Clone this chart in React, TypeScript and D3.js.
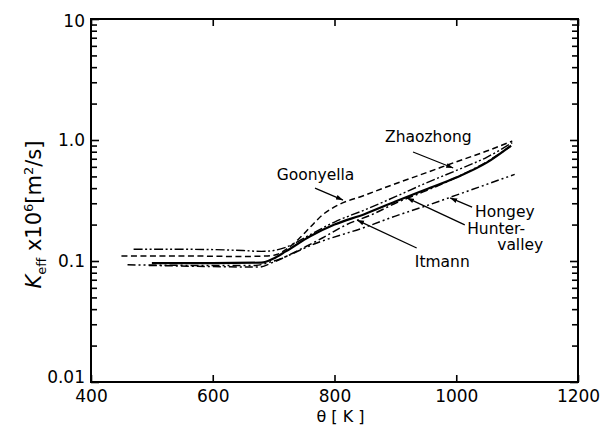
import React, { useEffect, useRef } from "react";
import * as d3 from "d3";

// temperature theta [K] and K_eff x 10^6 [m^2/s]
const goonyellaT = [450, 550, 650, 690, 705, 720, 740, 760, 780, 800, 850, 900, 950, 1000, 1050, 1092];
const goonyellaK = [0.11, 0.11, 0.109, 0.11, 0.113, 0.124, 0.15, 0.19, 0.24, 0.28, 0.35, 0.435, 0.535, 0.66, 0.81, 0.98];

const zhaozhongT = [470, 550, 650, 680, 700, 720, 760, 800, 850, 900, 950, 1000, 1050, 1092];
const zhaozhongK = [0.125, 0.125, 0.122, 0.12, 0.122, 0.13, 0.165, 0.21, 0.265, 0.34, 0.44, 0.56, 0.72, 0.95];

const hunterT = [500, 600, 680, 700, 720, 760, 800, 850, 900, 950, 1000, 1050, 1090];
const hunterK = [0.096, 0.096, 0.097, 0.105, 0.12, 0.16, 0.2, 0.245, 0.31, 0.39, 0.49, 0.65, 0.9];

const itmannT = [495, 600, 675, 700, 740, 780, 820, 860, 900, 950, 1000, 1050, 1090];
const itmannK = [0.092, 0.09, 0.089, 0.098, 0.122, 0.155, 0.2, 0.24, 0.3, 0.38, 0.49, 0.66, 0.89];

const hongeyT = [460, 560, 670, 700, 771, 850, 900, 950, 1000, 1050, 1096];
const hongeyK = [0.093, 0.092, 0.092, 0.1, 0.141, 0.19, 0.235, 0.285, 0.35, 0.43, 0.52];

const xTicks = [400, 600, 800, 1000, 1200];
const yTicks = [0.01, 0.1, 1, 10];
const yTickLabels = ["0.01", "0.1", "1.0", "10"];

const series = [
  { name: "Goonyella", t: goonyellaT, k: goonyellaK, dash: "6,3.5", w: 1.5 },
  { name: "Zhaozhong", t: zhaozhongT, k: zhaozhongK, dash: "9,2.5,2,2.5,2,2.5", w: 1.4 },
  { name: "Hunter-valley", t: hunterT, k: hunterK, dash: null, w: 2.2 },
  { name: "Itmann", t: itmannT, k: itmannK, dash: "8,3,2,3", w: 1.5 },
  { name: "Hongey", t: hongeyT, k: hongeyK, dash: "8,3,2,3,2,3", w: 1.5 },
];

// label text, position (data coords) and arrow from/to (data coords)
const labels = [
  { lines: ["Zhaozhong"], at: [883, 0.963], from: [929, 0.796], to: [995, 0.587] },
  { lines: ["Goonyella"], at: [705, 0.467], from: [768, 0.4], to: [814, 0.319] },
  { lines: ["Hongey"], at: [1031, 0.232], from: [1026, 0.279], to: [990, 0.332] },
  { lines: ["Hunter-", "valley"], at: [1018, 0.166], from: [1014, 0.199], to: [919, 0.332] },
  { lines: ["Itmann"], at: [932, 0.089], from: [935, 0.128], to: [837, 0.218] },
];

export default function App() {
  const svgRef = useRef<SVGSVGElement>(null);

  useEffect(() => {
    const width = 605;
    const height = 427;
    const margin = { top: 19, right: 27, bottom: 45, left: 91 };

    const svg = d3.select(svgRef.current).attr("width", width).attr("height", height);
    svg.selectAll("*").remove();

    const x = d3.scaleLinear().domain([400, 1200]).range([margin.left, width - margin.right]);
    const y = d3.scaleLog().domain([0.01, 10]).range([height - margin.bottom, margin.top]);

    const font = "'DejaVu Sans', sans-serif";
    const minors: number[] = [];
    [0.01, 0.1, 1].forEach((d) => {
      for (let i = 2; i <= 9; i++) minors.push(d * i);
    });

    const styleAxis = (g: any) => {
      g.select(".domain").remove();
      g.selectAll("line").attr("stroke", "#000").attr("stroke-width", 1.6);
      g.selectAll("text").attr("fill", "#000").style("font-family", font).style("font-size", "17px");
    };

    // x axes
    svg.append("g")
      .attr("transform", `translate(0,${y(0.01)})`)
      .call(d3.axisBottom(x).tickValues(xTicks).tickSizeInner(-7).tickSizeOuter(0).tickPadding(8).tickFormat(d3.format("d")))
      .call(styleAxis);
    svg.append("g")
      .attr("transform", `translate(0,${y(10)})`)
      .call(d3.axisTop(x).tickValues(xTicks).tickSizeInner(-7).tickSizeOuter(0).tickFormat(() => ""))
      .call(styleAxis);

    // y axes
    const yAx = svg.append("g")
      .attr("transform", `translate(${x(400)},0)`)
      .call(d3.axisLeft(y).tickValues(yTicks).tickSizeInner(-8).tickSizeOuter(0).tickPadding(6)
        .tickFormat((d, i) => yTickLabels[i]))
      .call(styleAxis);
    yAx.selectAll("text").filter((d: any) => d === 0.01).attr("dy", "0.05em");
    yAx.selectAll("text").filter((d: any) => d === 10).attr("dy", "0.42em");
    svg.append("g")
      .attr("transform", `translate(${x(400)},0)`)
      .call(d3.axisLeft(y).tickValues(minors).tickSizeInner(-6).tickSizeOuter(0).tickFormat(() => ""))
      .call(styleAxis);
    svg.append("g")
      .attr("transform", `translate(${x(1200)},0)`)
      .call(d3.axisRight(y).tickValues(yTicks).tickSizeInner(-8).tickSizeOuter(0).tickFormat(() => ""))
      .call(styleAxis);
    svg.append("g")
      .attr("transform", `translate(${x(1200)},0)`)
      .call(d3.axisRight(y).tickValues(minors).tickSizeInner(-6).tickSizeOuter(0).tickFormat(() => ""))
      .call(styleAxis);

    // frame
    svg.append("rect")
      .attr("x", x(400)).attr("y", y(10))
      .attr("width", x(1200) - x(400)).attr("height", y(0.01) - y(10))
      .attr("fill", "none").attr("stroke", "#000").attr("stroke-width", 2);

    // curves
    const line = d3.line<[number, number]>()
      .curve(d3.curveMonotoneX)
      .x((d) => x(d[0]))
      .y((d) => y(d[1]));

    series.forEach((s) => {
      const pts = s.t.map((t, i) => [t, s.k[i]] as [number, number]);
      svg.append("path")
        .datum(pts)
        .attr("fill", "none")
        .attr("stroke", "#000")
        .attr("stroke-width", s.w)
        .attr("stroke-dasharray", s.dash)
        .attr("d", line);
    });

    // labels and arrows
    const defs = svg.append("defs");
    defs.append("marker")
      .attr("id", "arrow")
      .attr("viewBox", "0 0 10 10")
      .attr("refX", 10).attr("refY", 5)
      .attr("markerWidth", 7).attr("markerHeight", 7)
      .attr("markerUnits", "userSpaceOnUse")
      .attr("orient", "auto")
      .append("path").attr("d", "M0,1.5 L10,5 L0,8.5 Z").attr("fill", "#000");

    labels.forEach((l) => {
      svg.append("line")
        .attr("x1", x(l.from[0])).attr("y1", y(l.from[1]))
        .attr("x2", x(l.to[0])).attr("y2", y(l.to[1]))
        .attr("stroke", "#000").attr("stroke-width", 1.3)
        .attr("marker-end", "url(#arrow)");
      const txt = svg.append("text")
        .attr("x", x(l.at[0])).attr("y", y(l.at[1]))
        .style("font-family", font).style("font-size", "15.5px").attr("fill", "#000");
      l.lines.forEach((ln, i) => {
        txt.append("tspan")
          .attr("x", x(l.at[0]) + (i > 0 ? 30 : 0))
          .attr("dy", i === 0 ? 0 : 16)
          .text(ln);
      });
    });

    // axis titles
    svg.append("text")
      .attr("x", (x(400) + x(1200)) / 2 + 6).attr("y", height - 5)
      .attr("text-anchor", "middle")
      .style("font-family", font).style("font-size", "16px")
      .text("θ [ K ]");

    const yt = svg.append("text")
      .attr("transform", `translate(41,${(y(0.01) + y(10)) / 2 + 14}) rotate(-90)`)
      .attr("text-anchor", "middle")
      .style("font-family", font).style("font-size", "21px");
    yt.append("tspan").style("font-style", "italic").text("K");
    yt.append("tspan").attr("dy", 5).style("font-size", "13px").text("eff");
    yt.append("tspan").attr("dy", -5).text(" x10");
    yt.append("tspan").attr("dy", -8).style("font-size", "13px").text("6");
    yt.append("tspan").attr("dy", 8).text("[m");
    yt.append("tspan").attr("dy", -8).style("font-size", "13px").text("2");
    yt.append("tspan").attr("dy", 8).text("/s]");
  }, []);

  return (
    <svg ref={svgRef} style={{ position: "absolute", left: 0, top: 0, background: "#fff" }}></svg>
  );
}
